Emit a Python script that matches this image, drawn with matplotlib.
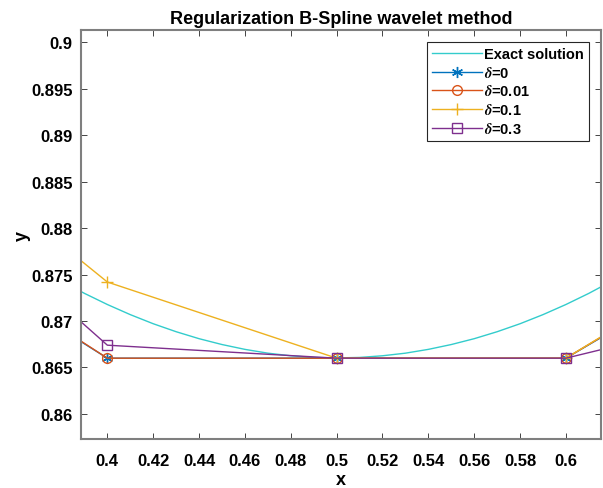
import matplotlib.pyplot as plt
import numpy as np

# exact solution
x_exact = [0.38, 0.39, 0.40, 0.41, 0.42, 0.43, 0.44, 0.45, 0.46, 0.47, 0.48, 0.49,
           0.50, 0.51, 0.52, 0.53, 0.54, 0.55, 0.56, 0.57, 0.58, 0.59, 0.60, 0.61, 0.62]
y_exact = [0.87430, 0.87298, 0.87178, 0.87069, 0.86971, 0.86885, 0.86810, 0.86747,
           0.86695, 0.86654, 0.86626, 0.86608, 0.86603, 0.86608, 0.86626, 0.86654,
           0.86695, 0.86747, 0.86810, 0.86885, 0.86971, 0.87069, 0.87178, 0.87298, 0.87430]

# regularized solutions at the nodes
x_nodes = [0.3, 0.4, 0.5, 0.6, 0.7]
y_d0 = [0.8815, 0.8660, 0.8660, 0.8660, 0.8805]
y_d001 = [0.8820, 0.8660, 0.8660, 0.8660, 0.8808]
y_d01 = [0.8942, 0.8742, 0.8660, 0.8660, 0.8810]
y_d03 = [0.8893, 0.8674, 0.8660, 0.8660, 0.8720]

plt.rcParams['font.family'] = ['Liberation Sans', 'DejaVu Sans']
plt.rcParams['font.weight'] = 'bold'
plt.rcParams['mathtext.fontset'] = 'stix'

fig = plt.figure(figsize=(6.03, 4.89), dpi=100)
ax = fig.add_axes([0.1343, 0.1002, 0.8624, 0.8358])

ax.plot(x_exact, y_exact, color=(0.2, 0.8, 0.8), lw=1, label='Exact solution')
ax.plot(x_nodes, y_d0, color=(0, 0.447, 0.741), lw=1, marker=(6, 2, 0), ms=8,
        label=r'$\delta$=0')
ax.plot(x_nodes, y_d001, color=(0.85, 0.325, 0.098), lw=1, marker='o', ms=7,
        mfc='none', label=r'$\delta$=0.01')
ax.plot(x_nodes, y_d01, color=(0.929, 0.694, 0.125), lw=1, marker='+', ms=8,
        label=r'$\delta$=0.1')
ax.plot(x_nodes, y_d03, color=(0.494, 0.184, 0.556), lw=1, marker='s', ms=7,
        mfc='none', label=r'$\delta$=0.3')

ax.set_xlim(0.3885, 0.6153)
ax.set_ylim(0.8573, 0.9013)
ax.set_xticks(np.arange(0.40, 0.601, 0.02))
ax.set_xticklabels(['0.4', '0.42', '0.44', '0.46', '0.48', '0.5',
                    '0.52', '0.54', '0.56', '0.58', '0.6'])
ax.set_yticks(np.arange(0.86, 0.9001, 0.005))
ax.set_yticklabels(['0.86', '0.865', '0.87', '0.875', '0.88',
                    '0.885', '0.89', '0.895', '0.9'])
ax.tick_params(direction='in', top=True, right=True, length=4, width=0.6,
               color='#262626', labelsize=12)
ax.tick_params(axis='x', pad=10)
ax.tick_params(axis='y', pad=6)
for s in ax.spines.values():
    s.set_color('#7f7f7f')
    s.set_linewidth(1.5)

ax.set_title('Regularization B-Spline wavelet method', fontsize=13, fontweight='bold', pad=5)
ax.set_xlabel('x', fontsize=13, fontweight='bold', labelpad=2)
ax.set_ylabel('y', fontsize=13, fontweight='bold', labelpad=0)

leg = ax.legend(loc='upper right', fontsize=10.5, handlelength=3.4, borderaxespad=0.8,
                fancybox=False, edgecolor='#262626', framealpha=1,
                labelspacing=0.25, borderpad=0.35, handletextpad=0.2)
leg.get_frame().set_linewidth(0.8)

plt.savefig('out.png', dpi=100)
